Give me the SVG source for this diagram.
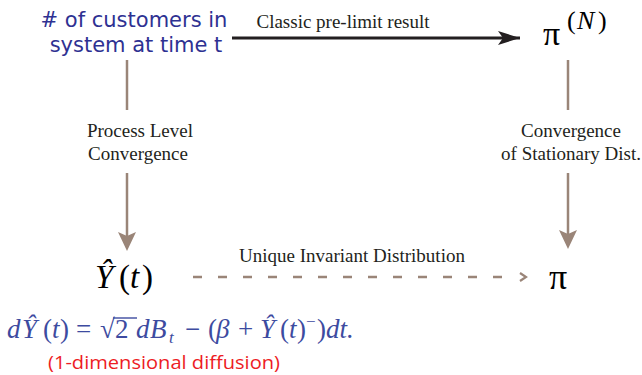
<svg xmlns="http://www.w3.org/2000/svg" width="642" height="375" viewBox="0 0 642 375">
<style>
.lbl{font-family:"Liberation Serif","Times New Roman",serif;font-size:19px;fill:#231f20}
.math{font-family:"Liberation Serif","Times New Roman",serif;font-style:italic;fill:#000}
.pi{font-family:"Liberation Serif","Times New Roman",serif;fill:#000}
.up{font-style:normal}
.title{font-family:"DejaVu Sans","Comic Sans MS",sans-serif;font-size:21px;fill:#2e3192}
.eq{font-family:"Liberation Serif","Times New Roman",serif;font-style:italic;font-size:27px;fill:#3d4ba0}
.red{font-family:"Open Sans","Noto Sans",sans-serif;font-size:19px;fill:#ed1c24}
.brown{stroke:#9a8578;stroke-width:2.5;fill:none}
</style>
<defs>
<marker id="blk" viewBox="0 0 22 14" refX="22" refY="7" markerWidth="22" markerHeight="14" markerUnits="userSpaceOnUse" orient="auto">
<path d="M0,0 L22,7 L0,14 L5,7 Z" fill="#231f20"/>
</marker>
</defs>

<g id="connectors">
<line x1="232" y1="38" x2="520" y2="38" stroke="#231f20" stroke-width="3" marker-end="url(#blk)"/>
<line class="brown" x1="127" y1="60" x2="127" y2="110"/>
<line class="brown" x1="127" y1="173" x2="127" y2="240"/>
<path d="M118,232 L127,251 L136,232 L127,236 Z" fill="#9a8578"/>
<line class="brown" x1="568" y1="60" x2="568" y2="110"/>
<line class="brown" x1="568" y1="173" x2="568" y2="238"/>
<path d="M559,230 L568,249 L577,230 L568,234 Z" fill="#9a8578"/>
<line class="brown" x1="193" y1="277" x2="508" y2="277" stroke-dasharray="9 16"/>
<path d="M520,273 L526,277 L520,281" fill="none" stroke="#9a8578" stroke-width="2.2"/>
<text class="lbl" x="343" y="28" text-anchor="middle">Classic pre-limit result</text>
<text class="lbl" x="140" y="137" text-anchor="middle">Process Level</text>
<text class="lbl" x="138" y="160" text-anchor="middle">Convergence</text>
<text class="lbl" x="571" y="137" text-anchor="middle">Convergence</text>
<text class="lbl" x="571" y="160" text-anchor="middle">of Stationary Dist.</text>
<text class="lbl" x="352" y="262" text-anchor="middle">Unique Invariant Distribution</text>
</g>

<g id="customers">
<text class="title" x="134" y="27" text-anchor="middle"># of customers in</text>
<text class="title" x="136" y="52" text-anchor="middle">system at time t</text>
</g>

<g id="piN">
<text class="pi" x="543" y="45" font-size="34">π</text>
<text class="math" font-size="26" y="29"><tspan class="up" x="567">(</tspan><tspan x="577">N</tspan><tspan class="up" x="598">)</tspan></text>
</g>

<g id="Yhat">
<text class="math" font-size="33" y="288"><tspan x="95">Ŷ</tspan><tspan class="up" x="119">(</tspan><tspan x="130">t</tspan><tspan class="up" x="142">)</tspan></text>
</g>

<g id="pi">
<text class="pi" x="549" y="289" font-size="36">π</text>
</g>

<g id="equation">
<text class="eq" y="338"><tspan x="7">d</tspan><tspan x="22">Ŷ</tspan><tspan class="up" x="43">(</tspan><tspan x="52">t</tspan><tspan class="up" x="60">)</tspan><tspan class="up" x="76">=</tspan><tspan class="up" x="100">√</tspan><tspan class="up" x="115">2</tspan><tspan x="136">d</tspan><tspan x="150">B</tspan><tspan x="169" dy="5" font-size="17">t</tspan><tspan class="up" x="185" dy="-5">−</tspan><tspan class="up" x="208">(</tspan><tspan x="216">β</tspan><tspan class="up" x="238">+</tspan><tspan x="260">Ŷ</tspan><tspan class="up" x="280">(</tspan><tspan x="289">t</tspan><tspan class="up" x="297">)</tspan><tspan class="up" x="306" dy="-11" font-size="17">−</tspan><tspan class="up" x="317" dy="11">)</tspan><tspan x="326">dt.</tspan></text>
<line x1="113" y1="318" x2="137" y2="318" stroke="#3d4ba0" stroke-width="1.4"/>
</g>

<g id="note">
<text class="red" x="48" y="369" textLength="232" lengthAdjust="spacingAndGlyphs">(1-dimensional diffusion)</text>
</g>
</svg>
